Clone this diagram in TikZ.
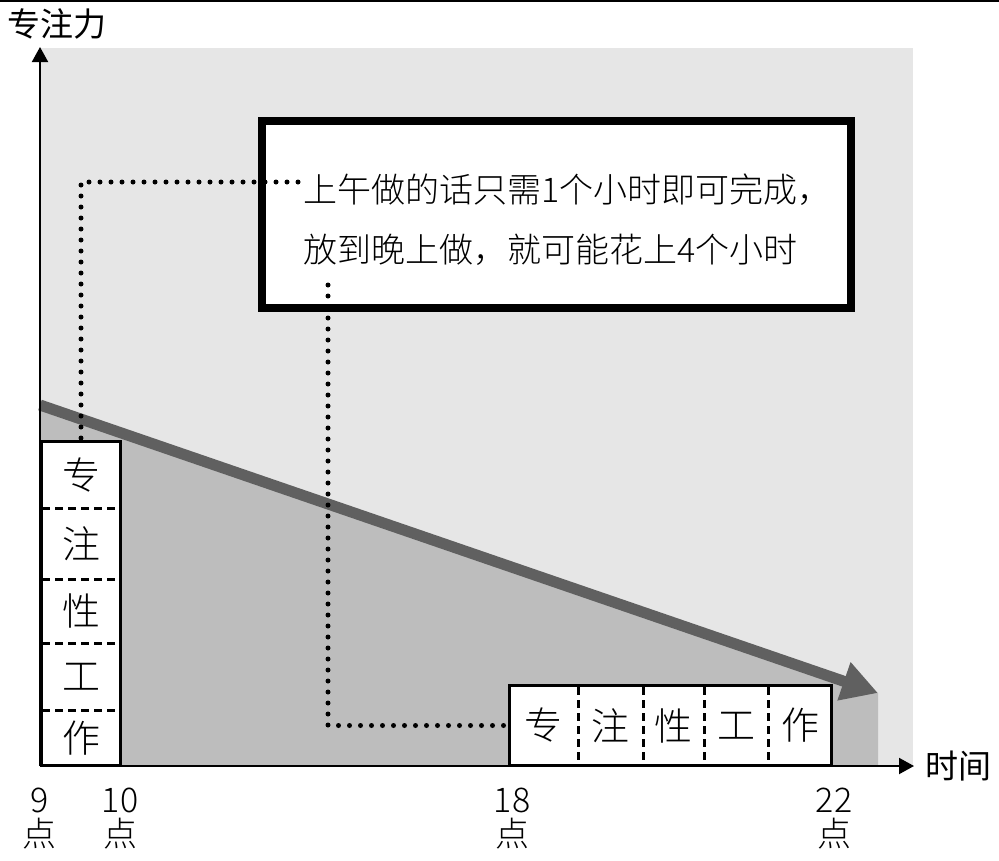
\documentclass[tikz,border=0pt]{standalone}
\usepackage{fontspec}
\setmainfont{Noto Sans CJK SC Light}
\newfontfamily\regcjk{Noto Sans CJK SC}
\usetikzlibrary{arrows.meta}
\definecolor{bglight}{HTML}{E6E6E6}
\definecolor{bgdark}{HTML}{BDBDBD}
\definecolor{trendcol}{HTML}{606060}
\tikzset{
  axisline/.style={line width=2pt, -{Triangle[length=15pt,width=16pt]}},
  cellbox/.style={draw, line width=3pt, fill=white, inner sep=0pt},
  celltext/.style={font=\fontsize{38}{38}\selectfont, inner sep=0pt},
  divider/.style={line width=3pt, dash pattern=on 8pt off 5pt},
  dotline/.style={line width=5pt, line cap=round, dash pattern=on 0pt off 11pt},
  callout/.style={draw, line width=8pt, fill=white, minimum width=589pt, minimum height=187pt, inner sep=0pt},
  calltext/.style={font=\fontsize{34}{40}\selectfont, anchor=west, inner sep=0pt},
  ticktext/.style={font=\fontsize{34}{34}\selectfont, inner sep=0pt},
  axislabel/.style={font=\regcjk\fontsize{33}{36}\selectfont, inner sep=0pt},
  trendline/.style={draw=trendcol, line width=11pt, -{Triangle[length=36pt,width=38pt]}}
}
\begin{document}
\begin{tikzpicture}[x=1pt,y=-1pt]
\useasboundingbox (0,0) rectangle (999,860);
% top rule
\draw[line width=2pt] (0,1) -- (999,1);
% backgrounds
\fill[bglight] (40,48) rectangle (913,766);
\fill[bgdark] (40,405) -- (878,693) -- (878,766) -- (40,766) -- cycle;
% trend arrow
\coordinate (tstart) at (40,405);
\coordinate (tend) at (878,693);
\draw[trendline] (tstart) -- (tend);
% axes
\coordinate (O) at (40,766);
\coordinate (ytip) at (40,47);
\coordinate (xtip) at (914,766);
\draw[axisline] (O) -- (ytip);
\draw[axisline] (O) -- (xtip);
\node[axislabel] (ylab) at (57,24) {专注力};
\node[axislabel] (xlab) at (958,766) {时间};
% left box
\node[cellbox, minimum width=79pt, minimum height=324pt] (lbox) at (81,603.5) {};
\node[celltext] (l1) at (81,475) {专};
\node[celltext] (l2) at (81,543.5) {注};
\node[celltext] (l3) at (81,611) {性};
\node[celltext] (l4) at (81,676.5) {工};
\node[celltext] (l5) at (81,738.5) {作};
\foreach \yy in {508,579,643,710} \draw[divider] (42,\yy) -- (120,\yy);
% bottom box
\node[cellbox, minimum width=322pt, minimum height=80pt] (bbox) at (670.5,725.5) {};
\node[celltext] (b1) at (543,725.5) {专};
\node[celltext] (b2) at (610.5,725.5) {注};
\node[celltext] (b3) at (673.5,725.5) {性};
\node[celltext] (b4) at (736,725.5) {工};
\node[celltext] (b5) at (800.5,725.5) {作};
\foreach \xx in {578,643,704,768} \draw[divider] (\xx,687) -- (\xx,764);
% callout
\node[callout] (call) at (556.5,214.5) {};
\node[calltext] (cl1) at (303,190) {上午做的话只需1个小时即可完成，};
\node[calltext] (cl2) at (303,250) {放到晚上做，就可能花上4个小时};
% dotted connectors
\coordinate (d1) at (298,182);
\coordinate (d2) at (328,285);
\draw[dotline] (d1) -| (lbox.north);
\draw[dotline] (d2) |- (bbox.west);
% tick labels
\node[ticktext] (t9a) at (40,800) {9};
\node[ticktext] (t9b) at (40,834) {点};
\node[ticktext] (t10a) at (120,800) {10};
\node[ticktext] (t10b) at (120,834) {点};
\node[ticktext] (t18a) at (512,800) {18};
\node[ticktext] (t18b) at (512,834) {点};
\node[ticktext] (t22a) at (834,800) {22};
\node[ticktext] (t22b) at (834,834) {点};
\end{tikzpicture}
\end{document}
